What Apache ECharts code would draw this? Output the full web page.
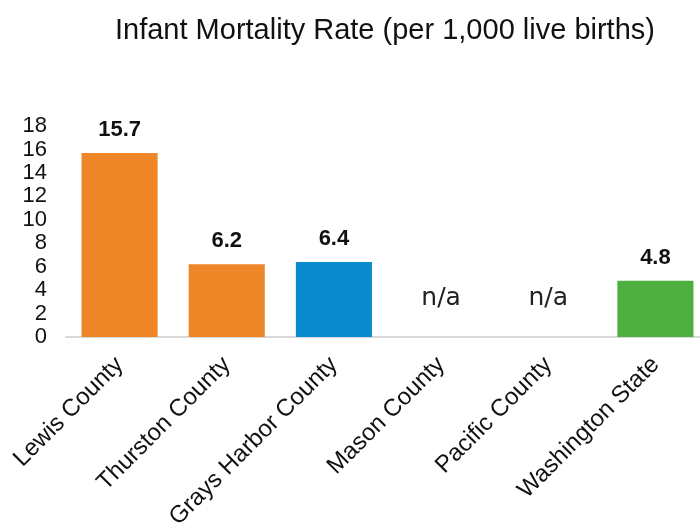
<!DOCTYPE html>
<html lang="en">
<head>
    <meta charset="UTF-8">
    <title>Infant Mortality Rate</title>
    <style>
        * { margin: 0; padding: 0; }
        #main { width: 700px; height: 523px; }
    </style>
</head>
<body>
    <div id="main"></div>
    <script src="https://cdn.jsdelivr.net/npm/echarts@6/dist/echarts.min.js"></script>
    <script>
        var categories = ['Lewis County', 'Thurston County', 'Grays Harbor County', 'Mason County', 'Pacific County', 'Washington State'];
        var rates = [15.7, 6.2, 6.4, null, null, 4.8]; // null = n/a
        var barColors = ['#EE8628', '#EE8628', '#0A8BCF', '#EE8628', '#EE8628', '#4CAF40'];
        var yTicks = [0, 2, 4, 6, 8, 10, 12, 14, 16, 18];

        var chart = echarts.init(document.getElementById('main'));

        var barData = rates.map(function (v, i) {
            if (v === null) {
                // no bar, just the n/a note above the axis
                return {
                    value: 0,
                    itemStyle: { color: barColors[i] },
                    label: {
                        formatter: 'n/a',
                        fontFamily: 'DejaVu Sans',
                        fontWeight: 'normal',
                        fontSize: 25,
                        color: '#222',
                        offset: [0, -14]
                    }
                };
            }
            return { value: v, itemStyle: { color: barColors[i] } };
        });

        var option = {
            animation: false,
            title: {
                text: 'Infant Mortality Rate (per 1,000 live births)',
                left: 110,
                top: 11,
                textStyle: {
                    fontFamily: 'Liberation Sans, Arial',
                    fontWeight: 'normal',
                    fontSize: 29,
                    color: '#111'
                }
            },
            grid: {
                left: 66,
                width: 643, // last category runs past the right edge, as in the original
                top: 126,
                bottom: 186,
                containLabel: false,
                outerBoundsMode: 'none'
            },
            xAxis: {
                type: 'category',
                data: categories,
                axisLine: { lineStyle: { color: '#d9d9d9', width: 2 } },
                axisTick: { show: false },
                axisLabel: {
                    rotate: 45,
                    interval: 0,
                    margin: 24,
                    fontFamily: 'Liberation Sans, Arial',
                    fontSize: 24,
                    color: '#111'
                }
            },
            yAxis: {
                type: 'value',
                min: yTicks[0],
                max: yTicks[yTicks.length - 1],
                interval: 2,
                splitLine: { show: false },
                axisLine: { show: false },
                axisTick: { show: false },
                axisLabel: {
                    align: 'right',
                    margin: 19,
                    fontFamily: 'Liberation Sans, Arial',
                    fontSize: 22,
                    color: '#111'
                }
            },
            series: [{
                type: 'bar',
                data: barData,
                barWidth: '71%',
                label: {
                    show: true,
                    position: 'top',
                    distance: 12,
                    fontFamily: 'Liberation Sans, Arial',
                    fontWeight: 'bold',
                    fontSize: 22,
                    color: '#111'
                }
            }]
        };

        chart.setOption(option);
    </script>
</body>
</html>
